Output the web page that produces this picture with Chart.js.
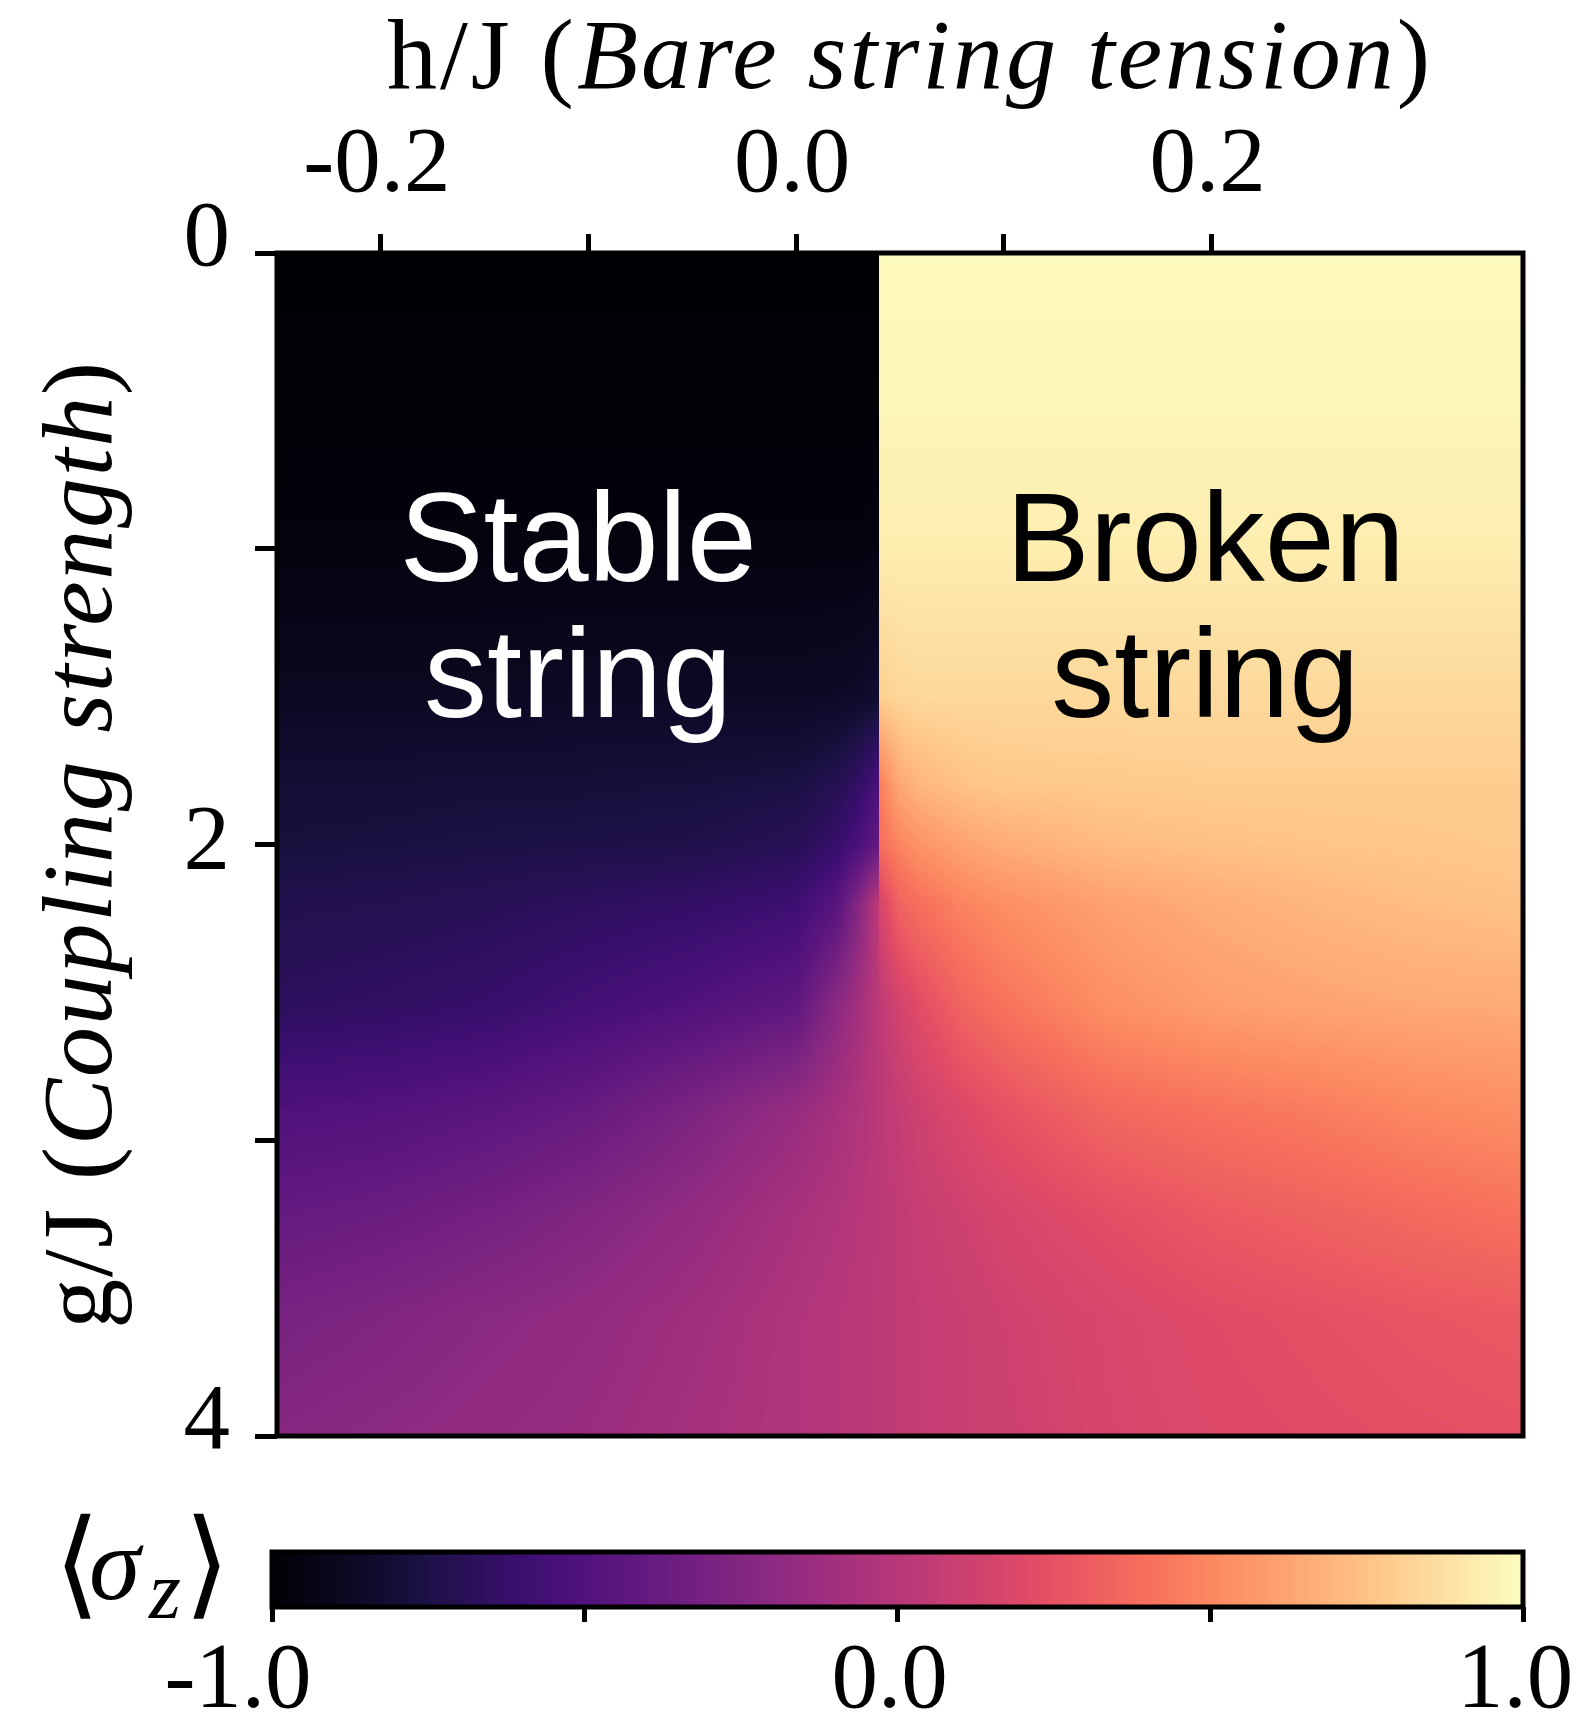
<!DOCTYPE html>
<html>
<head>
<meta charset="utf-8">
<script src="https://cdn.jsdelivr.net/npm/chart.js@4.4.1/dist/chart.umd.min.js"></script>
<style>
  html, body { margin: 0; padding: 0; background: #ffffff; }
  #wrap { position: relative; width: 1577px; height: 1720px; overflow: hidden; background: #ffffff; }
  #c1 { position: absolute; left: 0; top: 0; }
  #c2 { position: absolute; left: 0; top: 1480px; }
</style>
</head>
<body>
<div id="wrap">
  <canvas id="c1" width="1577" height="1500"></canvas>
  <canvas id="c2" width="1577" height="240"></canvas>
</div>
<script>
// ---------------- DATA ----------------
// h/J grid nodes; 0.04 appears twice: left and right limits at the string-breaking line
const H_NODES = [-0.25, -0.2, -0.15, -0.1, -0.05, 0, 0.02, 0.03, 0.04, 0.04, 0.05, 0.06, 0.08, 0.1, 0.15, 0.2, 0.25, 0.3, 0.35];
// g/J rows
const G_ROWS = [0, 0.5, 1, 1.5, 1.8, 2, 2.2, 2.55, 2.9, 3.25, 3.6, 4];
// <sigma_z> at each (g row, h node)
const SIGMA_G0   = [-1.00,-1.00,-1.00,-1.00,-1.00,-1.00,-1.00,-1.00,-1.00, 0.99,0.99,0.99,0.99,0.99,0.99,0.99,0.99,0.99,0.99];
const SIGMA_G05  = [-0.99,-0.99,-0.99,-0.99,-0.99,-0.99,-0.99,-0.99,-0.99, 0.97,0.97,0.97,0.97,0.97,0.97,0.97,0.97,0.97,0.97];
const SIGMA_G1   = [-0.96,-0.96,-0.96,-0.96,-0.96,-0.96,-0.96,-0.96,-0.95, 0.93,0.93,0.93,0.93,0.93,0.93,0.93,0.93,0.93,0.93];
const SIGMA_G15  = [-0.88,-0.88,-0.88,-0.87,-0.87,-0.87,-0.86,-0.85,-0.82, 0.80,0.83,0.84,0.84,0.84,0.84,0.84,0.84,0.84,0.84];
const SIGMA_G18  = [-0.80,-0.80,-0.79,-0.79,-0.78,-0.76,-0.71,-0.64,-0.52, 0.45,0.64,0.70,0.75,0.77,0.78,0.79,0.79,0.79,0.79];
const SIGMA_G2   = [-0.78,-0.77,-0.76,-0.75,-0.74,-0.70,-0.62,-0.53,-0.40, 0.38,0.49,0.55,0.62,0.66,0.72,0.745,0.76,0.77,0.78];
const SIGMA_G22  = [-0.73,-0.72,-0.70,-0.67,-0.64,-0.59,-0.46,-0.24, 0.05, 0.15,0.34,0.40,0.48,0.53,0.61,0.66,0.70,0.73,0.75];
const SIGMA_G255 = [-0.67,-0.65,-0.62,-0.56,-0.50,-0.42,-0.20,-0.09, 0.03, 0.03,0.14,0.22,0.34,0.41,0.53,0.59,0.62,0.64,0.65];
const SIGMA_G29  = [-0.51,-0.49,-0.45,-0.39,-0.28,-0.15,-0.075,-0.03,0.02, 0.02,0.07,0.12,0.19,0.25,0.36,0.41,0.45,0.50,0.53];
const SIGMA_G325 = [-0.40,-0.37,-0.32,-0.25,-0.17,-0.07,-0.03, 0.00, 0.03, 0.03,0.05,0.08,0.12,0.16,0.23,0.29,0.33,0.37,0.41];
const SIGMA_G36  = [-0.30,-0.26,-0.21,-0.17,-0.11,-0.03, 0.00, 0.02, 0.035,0.035,0.05,0.065,0.09,0.12,0.17,0.21,0.24,0.27,0.29];
const SIGMA_G4   = [-0.23,-0.20,-0.17,-0.14,-0.08,-0.03, 0.00, 0.02, 0.035,0.035,0.05,0.065,0.09,0.11,0.16,0.195,0.215,0.235,0.25];
const SIGMA = [SIGMA_G0, SIGMA_G05, SIGMA_G1, SIGMA_G15, SIGMA_G18, SIGMA_G2, SIGMA_G22, SIGMA_G255, SIGMA_G29, SIGMA_G325, SIGMA_G36, SIGMA_G4];

// axis ticks and labels
const H_TICKS = [-0.2, -0.1, 0, 0.1, 0.2];
const H_TICK_LABELS = ['-0.2', '', '0.0', '', '0.2'];
const G_TICKS = [0, 1, 2, 3, 4];
const G_TICK_LABELS = ['0', '', '2', '', '4'];
const CB_TICKS = [-1, -0.5, 0, 0.5, 1];
const CB_TICK_LABELS = ['-1.0', '', '0.0', '', '1.0'];

// ---------------- STYLE ----------------
const SERIF = "'Liberation Serif', 'DejaVu Serif', serif";
const SANS = "'Liberation Sans', Arial, 'DejaVu Sans', sans-serif";
const BRACKET_FONT = "'DejaVu Sans', 'DejaVu Serif', 'Noto Sans', sans-serif";
const MAGMA = [[0,'#000004'],[0.1,'#140e36'],[0.125,'#1d1147'],[0.2,'#3b0f70'],[0.25,'#51127c'],[0.3,'#641a80'],
  [0.375,'#822681'],[0.4,'#8c2981'],[0.5,'#b73779'],[0.6,'#de4968'],[0.625,'#e65164'],[0.7,'#f7705c'],
  [0.75,'#fb8861'],[0.8,'#fe9f6d'],[0.875,'#fec287'],[0.9,'#fecf92'],[1,'#fcfdbf']];

function hexToRgb(h) { return [parseInt(h.slice(1,3),16), parseInt(h.slice(3,5),16), parseInt(h.slice(5,7),16)]; }
const LUT = (() => {
  const st = MAGMA.map(([t, h]) => [t, hexToRgb(h)]);
  const out = [];
  for (let k = 0; k < 256; k++) {
    const t = k / 255;
    let i = 0;
    while (i < st.length - 2 && st[i + 1][0] < t) i++;
    const [t0, c0] = st[i], [t1, c1] = st[i + 1];
    const f = Math.min(1, Math.max(0, (t - t0) / (t1 - t0)));
    out.push([0, 1, 2].map(q => Math.round(c0[q] + (c1[q] - c0[q]) * f)));
  }
  return out;
})();
function colorFor(v) {
  let t = (v + 1) / 2;
  t = Math.min(1, Math.max(0, t));
  return LUT[Math.round(t * 255)];
}
function bracket(nodes, v) {
  let i = 0;
  for (let k = 0; k < nodes.length - 1; k++) if (nodes[k] <= v) i = k;
  let f = (v - nodes[i]) / (nodes[i + 1] - nodes[i]);
  f = Math.min(1, Math.max(0, f));
  return [i, f];
}

const gridPoints = [];
G_ROWS.forEach((g, j) => H_NODES.forEach((h, i) => gridPoints.push({ x: h, y: g, v: SIGMA[j][i] })));

// ---------------- PLUGINS ----------------
const heatmapPlugin = {
  id: 'heatmap',
  beforeDatasetsDraw(chart) {
    const { ctx, chartArea: a, scales: { x, y } } = chart;
    const w = Math.round(a.right - a.left), h = Math.round(a.bottom - a.top);
    const off = document.createElement('canvas');
    off.width = w; off.height = h;
    const octx = off.getContext('2d');
    const img = octx.createImageData(w, h);
    const ci = new Int32Array(w), cf = new Float32Array(w);
    for (let px = 0; px < w; px++) {
      const [i, f] = bracket(H_NODES, x.getValueForPixel(a.left + px + 0.5));
      ci[px] = i; cf[px] = f;
    }
    for (let py = 0; py < h; py++) {
      const [j, fy] = bracket(G_ROWS, y.getValueForPixel(a.top + py + 0.5));
      const r0 = SIGMA[j], r1 = SIGMA[j + 1];
      for (let px = 0; px < w; px++) {
        const i = ci[px], fx = cf[px];
        const top = r0[i] + (r0[i + 1] - r0[i]) * fx;
        const bot = r1[i] + (r1[i + 1] - r1[i]) * fx;
        const c = colorFor(top + (bot - top) * fy);
        const o = (py * w + px) * 4;
        img.data[o] = c[0]; img.data[o + 1] = c[1]; img.data[o + 2] = c[2]; img.data[o + 3] = 255;
      }
    }
    octx.putImageData(img, 0, 0);
    ctx.drawImage(off, a.left, a.top);
  }
};

const framePlugin = {
  id: 'frame',
  afterDatasetsDraw(chart, args, opts) {
    const { ctx, chartArea: a } = chart;
    ctx.save();
    ctx.strokeStyle = '#000';
    ctx.lineWidth = opts.width || 5;
    ctx.strokeRect(a.left, a.top, a.right - a.left, a.bottom - a.top);
    ctx.restore();
  }
};

// nudges individual tick labels (label text -> [dx, dy]) to follow the reference typesetting
const labelNudgePlugin = {
  id: 'labelNudge',
  beforeDraw(chart, args, opts) {
    Object.entries(opts.scales || {}).forEach(([id, map]) => {
      const s = chart.scales[id];
      if (!s || !s.getLabelItems) return;
      const items = s.getLabelItems();
      items.forEach(it => {
        const d = map[it.label];
        if (d && !it._nudged && it.options && it.options.translation) {
          it.options.translation[0] += d[0];
          it.options.translation[1] += d[1];
          it._nudged = true;
        }
      });
    });
  }
};

const annotationPlugin = {
  id: 'phaseLabels',
  afterDatasetsDraw(chart, args, opts) {
    const { ctx, scales: { x, y } } = chart;
    ctx.save();
    ctx.font = `${opts.size}px ${SANS}`;
    ctx.textAlign = 'center';
    ctx.textBaseline = 'alphabetic';
    opts.items.forEach(it => {
      ctx.fillStyle = it.color;
      it.lines.forEach((t, k) => ctx.fillText(t, x.getPixelForValue(it.h), y.getPixelForValue(it.g[k])));
    });
    ctx.restore();
  }
};

function drawRich(ctx, parts, size, spacing) {
  const fonts = parts.map(p => `${p.italic ? 'italic ' : ''}${size}px ${SERIF}`);
  const widths = parts.map((p, i) => { ctx.font = fonts[i]; ctx.letterSpacing = spacing + 'px'; return ctx.measureText(p.text).width; });
  const total = widths.reduce((s, v) => s + v, 0);
  let xx = -total / 2;
  ctx.textAlign = 'left';
  ctx.textBaseline = 'alphabetic';
  parts.forEach((p, i) => { ctx.font = fonts[i]; ctx.letterSpacing = spacing + 'px'; ctx.fillText(p.text, xx, 0); xx += widths[i]; });
  ctx.letterSpacing = '0px';
}

const axisTitlePlugin = {
  id: 'axisTitles',
  afterDraw(chart, args, opts) {
    const { ctx, chartArea: a } = chart;
    ctx.save();
    ctx.fillStyle = '#000';
    ctx.translate((a.left + a.right) / 2 + opts.xShift, opts.xBaseline);
    drawRich(ctx, opts.xParts, opts.xSize, opts.xSpacing);
    ctx.restore();
    ctx.save();
    ctx.fillStyle = '#000';
    ctx.translate(opts.yBaseline, (a.top + a.bottom) / 2);
    ctx.rotate(-Math.PI / 2);
    drawRich(ctx, opts.yParts, opts.ySize, opts.ySpacing);
    ctx.restore();
  }
};

const colorbarPlugin = {
  id: 'colorbar',
  beforeDatasetsDraw(chart) {
    const { ctx, chartArea: a, scales: { x } } = chart;
    ctx.save();
    for (let px = Math.floor(a.left); px < Math.ceil(a.right); px++) {
      const c = colorFor(x.getValueForPixel(px + 0.5));
      ctx.fillStyle = `rgb(${c[0]},${c[1]},${c[2]})`;
      ctx.fillRect(px, a.top, 1, a.bottom - a.top);
    }
    ctx.restore();
  }
};

const cbLabelPlugin = {
  id: 'cbLabel',
  afterDraw(chart) {
    const { ctx, chartArea: a } = chart;
    ctx.save();
    ctx.fillStyle = '#000';
    ctx.textBaseline = 'alphabetic';
    ctx.textAlign = 'left';
    const base = a.bottom - 4;
    ctx.font = `200 118px ${BRACKET_FONT}`;
    ctx.fillText('\u27E8', a.left - 218, base);
    ctx.font = `italic 104px ${SERIF}`;
    ctx.fillText('\u03C3', a.left - 183, a.bottom - 8);
    ctx.font = `italic 82px ${SERIF}`;
    ctx.fillText('z', a.left - 123, a.bottom + 11);
    ctx.font = `200 118px ${BRACKET_FONT}`;
    ctx.fillText('\u27E9', a.left - 88, base);
    ctx.restore();
  }
};

// ---------------- CHART 1 : phase diagram ----------------
const tickFont = { family: SERIF, size: 93 };
new Chart(document.getElementById('c1'), {
  type: 'scatter',
  data: { datasets: [{ data: gridPoints, pointRadius: 0, pointHoverRadius: 0, showLine: false }] },
  options: {
    responsive: false, animation: false, devicePixelRatio: 1, events: [],
    layout: { padding: { left: 0, top: 0, right: 54, bottom: 64 } },
    plugins: {
      legend: { display: false }, tooltip: { enabled: false },
      frame: { width: 5 },
      labelNudge: { scales: { y: { '0': [0, -12], '4': [0, -12] } } },
      phaseLabels: {
        size: 126,
        items: [
          { lines: ['Stable', 'string'], h: -0.105, g: [1.11, 1.57], color: '#ffffff' },
          { lines: ['Broken', 'string'], h: 0.197, g: [1.11, 1.57], color: '#000000' }
        ]
      },
      axisTitles: {
        xSize: 100, ySize: 100,
        xParts: [{ text: 'h/J (', italic: false }, { text: 'Bare string tension', italic: true }, { text: ')', italic: false }],
        xBaseline: 88, xShift: 10, xSpacing: 3,
        yParts: [{ text: 'g/J (', italic: false }, { text: 'Coupling strength', italic: true }, { text: ')', italic: false }],
        yBaseline: 111, ySpacing: 1.7
      }
    },
    scales: {
      x: {
        type: 'linear', position: 'top', min: -0.25, max: 0.35,
        afterBuildTicks: s => { s.ticks = H_TICKS.map(v => ({ value: v })); },
        afterFit: s => { s.height = 253; s.paddingLeft = 0; s.paddingRight = 0; },
        ticks: { callback: (v, i) => H_TICK_LABELS[i], font: tickFont, color: '#000', padding: 12, labelOffset: -4, maxRotation: 0, autoSkip: false },
        grid: { drawOnChartArea: false, drawTicks: true, tickLength: 19, tickWidth: 5, color: '#000' },
        border: { display: false }
      },
      y: {
        type: 'linear', position: 'left', reverse: true, min: 0, max: 4,
        afterBuildTicks: s => { s.ticks = G_TICKS.map(v => ({ value: v })); },
        afterFit: s => { s.width = 277; s.paddingTop = 0; s.paddingBottom = 0; },
        ticks: { callback: (v, i) => G_TICK_LABELS[i], font: tickFont, color: '#000', padding: 25, autoSkip: false },
        grid: { drawOnChartArea: false, drawTicks: true, tickLength: 22, tickWidth: 5, color: '#000' },
        border: { display: false }
      }
    }
  },
  plugins: [labelNudgePlugin, heatmapPlugin, framePlugin, annotationPlugin, axisTitlePlugin]
});

// ---------------- CHART 2 : colour bar ----------------
new Chart(document.getElementById('c2'), {
  type: 'scatter',
  data: { datasets: [{ data: CB_TICKS.map(v => ({ x: v, y: 0.5 })), pointRadius: 0, pointHoverRadius: 0 }] },
  options: {
    responsive: false, animation: false, devicePixelRatio: 1, events: [],
    layout: { padding: { left: 272, top: 72, right: 54, bottom: 0 } },
    plugins: {
      legend: { display: false }, tooltip: { enabled: false }, frame: { width: 5 },
      labelNudge: { scales: { x: { '-1.0': [-26, 0] } } }
    },
    scales: {
      x: {
        type: 'linear', position: 'bottom', min: -1, max: 1,
        afterBuildTicks: s => { s.ticks = CB_TICKS.map(v => ({ value: v })); },
        afterFit: s => { s.height = 113; s.paddingLeft = 0; s.paddingRight = 0; },
        ticks: { callback: (v, i) => CB_TICK_LABELS[i], font: tickFont, color: '#000', padding: 5, labelOffset: -8, maxRotation: 0, autoSkip: false },
        grid: { drawOnChartArea: false, drawTicks: true, tickLength: 15, tickWidth: 5, color: '#000' },
        border: { display: false }
      },
      y: { type: 'linear', display: false, min: 0, max: 1 }
    }
  },
  plugins: [labelNudgePlugin, colorbarPlugin, framePlugin, cbLabelPlugin]
});
</script>
</body>
</html>
